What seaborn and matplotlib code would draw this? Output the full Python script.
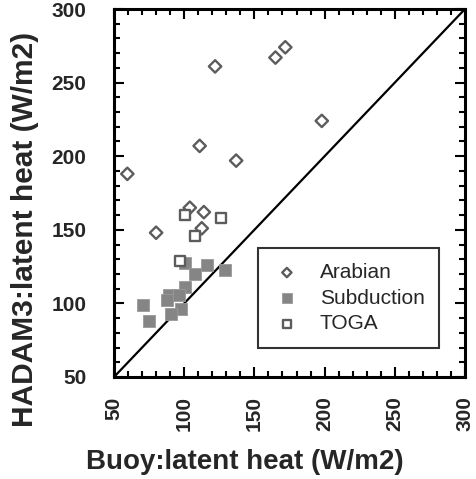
import matplotlib
matplotlib.use("Agg")
import matplotlib.pyplot as plt
import seaborn as sns
import pandas as pd
from matplotlib.ticker import MultipleLocator

# Data
arabian_x = [59.5, 122, 165, 172, 198, 111, 137, 104, 114, 112.5, 80]
arabian_y = [188, 261, 267, 274, 224, 207, 197, 165, 162, 151, 148]

subduction_x = [100.5, 116, 129, 108, 100.5, 89, 96.5, 87.5, 71, 98, 90.5, 75]
subduction_y = [127.5, 126, 123, 120, 111, 106, 106, 102, 99, 96, 92.5, 88]

toga_x = [100.5, 126, 108, 97]
toga_y = [160, 158, 146, 129]

ticks = [50, 100, 150, 200, 250, 300]

sns.set_style("ticks")
plt.rcParams['font.family'] = ['Liberation Sans', 'DejaVu Sans']

fig = plt.figure(figsize=(4.76, 4.79), dpi=100)
ax = fig.add_axes([114/476, 1 - 377/479, 351/476, 368/479])

gray_edge = "#5c5c5c"
gray_fill = "#858585"

df_a = pd.DataFrame({"x": arabian_x, "y": arabian_y})
df_s = pd.DataFrame({"x": subduction_x, "y": subduction_y})
df_t = pd.DataFrame({"x": toga_x, "y": toga_y})

sns.scatterplot(data=df_a, x="x", y="y", ax=ax, marker="D", s=40,
                facecolor="none", edgecolor=gray_edge, linewidth=1.7,
                label="Arabian", zorder=3)
sns.scatterplot(data=df_s, x="x", y="y", ax=ax, marker="s", s=75,
                color=gray_fill, edgecolor="#9a9a9a", linewidth=0.6,
                label="Subduction", zorder=3)
sns.scatterplot(data=df_t, x="x", y="y", ax=ax, marker="s", s=55,
                facecolor="white", edgecolor=gray_edge, linewidth=1.7,
                label="TOGA", zorder=4)

# 1:1 line
sns.lineplot(x=[50, 300], y=[50, 300], ax=ax, color="black", linewidth=1.6,
             zorder=2, legend=False)

ax.set_xlim(50, 300)
ax.set_ylim(50, 300)
ax.set_xticks(ticks)
ax.set_yticks(ticks)
ax.set_xticklabels([str(t) for t in ticks], rotation=90, fontsize=15, fontweight="bold")
ax.set_yticklabels([str(t) for t in ticks], fontsize=15, fontweight="bold")
ax.xaxis.set_minor_locator(MultipleLocator(10))
ax.yaxis.set_minor_locator(MultipleLocator(10))
ax.tick_params(which="both", direction="in", top=True, right=True, width=1.5, color="black")
ax.tick_params(which="major", length=7)
ax.tick_params(axis="y", which="major", pad=20)
ax.tick_params(axis="x", which="major", pad=14)
ax.tick_params(which="minor", length=4)
for sp in ax.spines.values():
    sp.set_linewidth(2.2)
    sp.set_color("black")

ax.set_xlabel("Buoy:latent heat (W/m2)", fontsize=20, fontweight="bold")
ax.set_ylabel("HADAM3:latent heat (W/m2)", fontsize=21.5, fontweight="bold")
ax.xaxis.set_label_coords(0.373, -0.231)
ax.xaxis.label.set_va("center")
ax.yaxis.set_label_coords(-0.2536, 0.402)
ax.yaxis.label.set_va("center")

leg = ax.legend(loc="lower left", bbox_to_anchor=(0.41, 0.079), fontsize=15,
                frameon=True, fancybox=False, markerscale=0.75,
                handletextpad=0.9, labelspacing=0.32, borderpad=0.7,
                borderaxespad=0, handlelength=1.38)
leg.get_frame().set_edgecolor("black")
leg.get_frame().set_linewidth(1.5)

fig.savefig("out.png", dpi=100)
